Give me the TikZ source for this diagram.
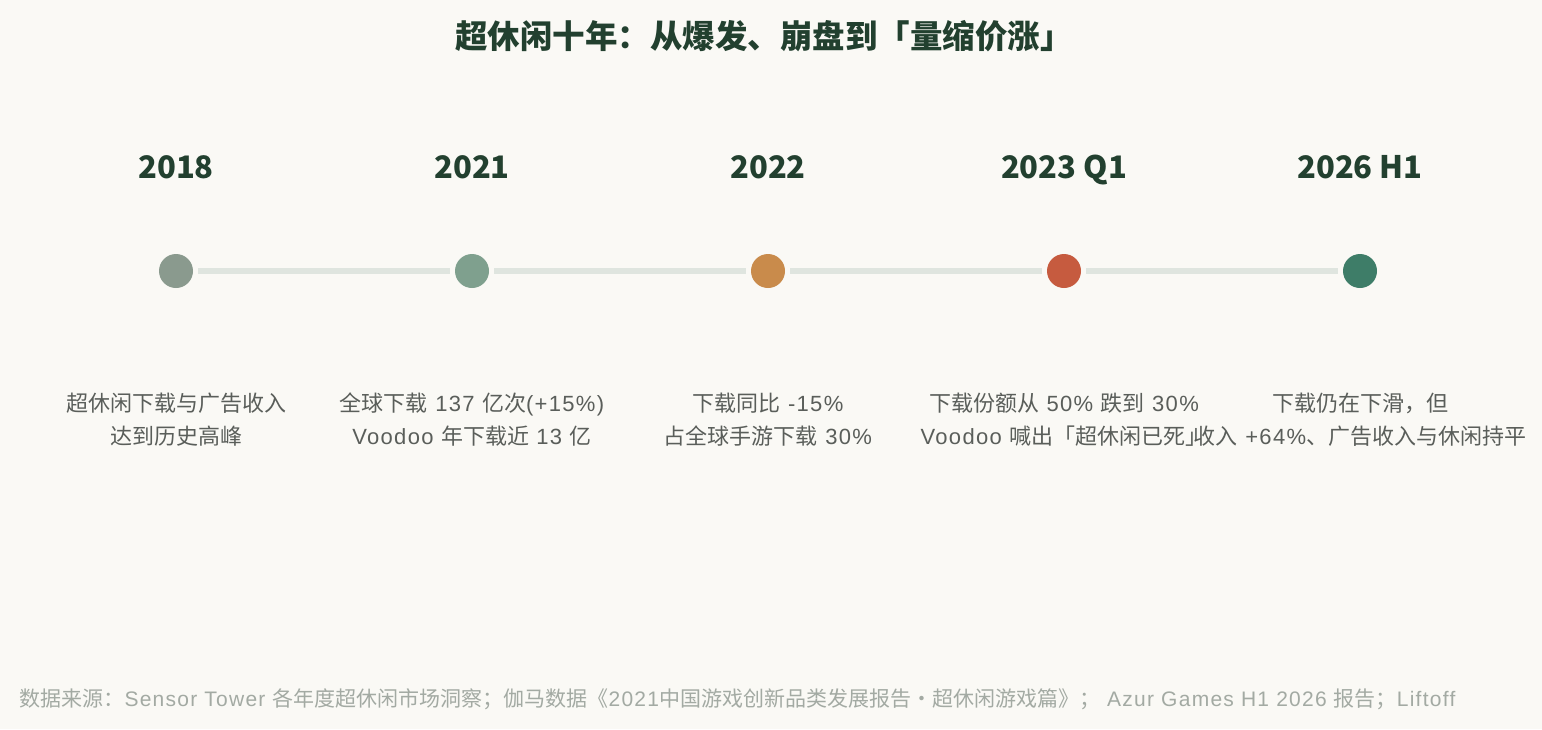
\documentclass[tikz,border=0pt]{standalone}
\usepackage{fontspec}
\setmainfont{Noto Sans CJK SC}
\newfontfamily\lat{Liberation Sans}[LetterSpace=6]
\definecolor{bgc}{HTML}{FAF9F5}
\definecolor{titlec}{HTML}{22402F}
\definecolor{descc}{HTML}{5A5E5A}
\definecolor{notec}{HTML}{A3AAA3}
\definecolor{trackc}{HTML}{DFE5DF}
\definecolor{dA}{HTML}{8A9A8E}
\definecolor{dB}{HTML}{7FA08E}
\definecolor{dC}{HTML}{C98B4B}
\definecolor{dD}{HTML}{C65B3F}
\definecolor{dE}{HTML}{3E7D68}
\begin{document}
\begin{tikzpicture}[x=1pt,y=-1pt,
  dotnode/.style={circle,minimum size=34pt,inner sep=0pt,fill=#1},
  track/.style={draw=trackc,line width=6pt,shorten <=5pt,shorten >=5pt},
  yearlab/.style={font=\fontsize{31}{36}\selectfont\bfseries,text=titlec,anchor=base},
  desclab/.style={font=\fontsize{22}{33}\selectfont,text=descc,align=center},
  ]
\fill[bgc] (0,0) rectangle (1542,729);
\useasboundingbox (0,0) rectangle (1542,729);
\node[font=\fontsize{32.5}{38}\selectfont\bfseries,text=titlec] (title) at (764,36) {超休闲十年：从爆发、崩盘到「量缩价涨」};
\node[dotnode=dA] (d1) at (176,271) {};
\node[dotnode=dB] (d2) at (472,271) {};
\node[dotnode=dC] (d3) at (768,271) {};
\node[dotnode=dD] (d4) at (1064,271) {};
\node[dotnode=dE] (d5) at (1360,271) {};
\draw[track] (d1) -- (d2);
\draw[track] (d2) -- (d3);
\draw[track] (d3) -- (d4);
\draw[track] (d4) -- (d5);
\node[yearlab] (y1) at (176,178) {2018};
\node[yearlab] (y2) at (472,178) {2021};
\node[yearlab] (y3) at (768,178) {2022};
\node[yearlab] (y4) at (1064,178) {2023 Q1};
\node[yearlab] (y5) at (1360,178) {2026 H1};
\node[desclab] (t1) at (176,420) {超休闲下载与广告收入\\达到历史高峰};
\node[desclab] (t2) at (472,420) {全球下载{\lat{} 137 }亿次{\lat(+15\%)}\\{\lat Voodoo }年下载近{\lat{} 13 }亿};
\node[desclab] (t3) at (768,420) {下载同比{\lat{} -15\%}\\占全球手游下载{\lat{} 30\%}};
\node[desclab] (t4) at (1064,420) {下载份额从{\lat{} 50\% }跌到{\lat{} 30\%}\\{\lat Voodoo }喊出「超休闲已死」};
\node[desclab] (t5) at (1360,420) {下载仍在下滑，但\\收入{\lat{} +64\%}、广告收入与休闲持平};
\node[anchor=west,font=\fontsize{21}{24}\selectfont,text=notec] (note) at (16,699) {数据来源：{\lat Sensor Tower }各年度超休闲市场洞察；伽马数据《{\lat 2021}中国游戏创新品类发展报告・超休闲游戏篇》；{\lat{} Azur Games H1 2026 }报告；{\lat Liftoff}};
\end{tikzpicture}
\end{document}
